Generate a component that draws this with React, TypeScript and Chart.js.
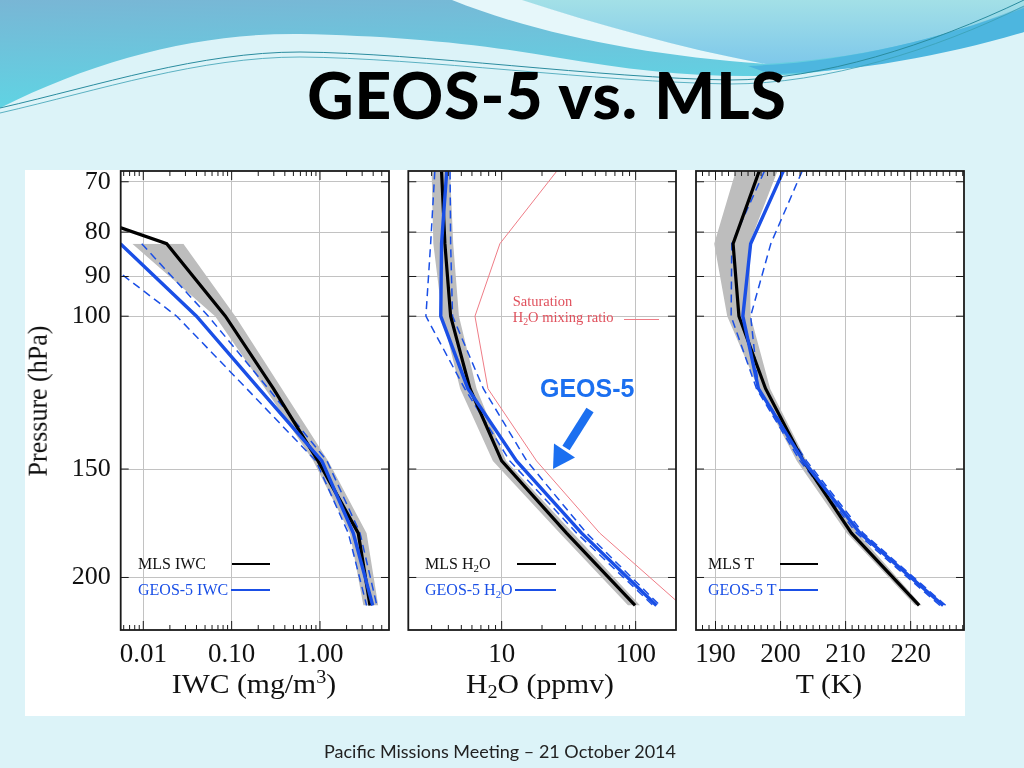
import React, { useEffect, useRef } from 'react';
import { Chart, registerables } from 'chart.js';

Chart.register(...registerables);

// ---------------- data ----------------
const pressureLevels = [68.1, 82.5, 100, 121.2, 146.8, 177.8, 215.4];
const pressureTicks = [70, 80, 90, 100, 150, 200];

const iwcTicks = [0.01, 0.1, 1];
const iwcMLS = [0.00008, 0.0184, 0.085, 0.297, 0.95, 2.71, 3.68];
const iwcMLSLow = [null, 0.0075, 0.065, 0.24, 0.84, 2.18, 3.1];
const iwcMLSHigh = [null, 0.0284, 0.11, 0.37, 1.24, 3.37, 4.56];
const iwcGEOS = [null, 0.0055, 0.04, 0.204, 1.05, 2.38, 3.95];
const iwcGEOSLow = [null, 0.002, 0.0239, 0.148, 0.9, 2.09, 3.37];
const iwcGEOSHigh = [null, 0.0096, 0.0545, 0.26, 1.2, 2.84, 4.4];

const h2oTicks = [10, 100];
const h2oMLS = [3.56, 3.77, 4.16, 5.8, 10.0, 30.5, 99];
const h2oMLSLow = [3.0, 3.09, 3.6, 4.9, 8.6, 27.2, 88];
const h2oMLSHigh = [4.12, 4.35, 4.8, 6.5, 10.8, 34.2, 108];
const h2oGEOS = [3.89, 3.56, 3.51, 5.6, 12.9, 39.5, 143];
const h2oGEOSLow = [3.17, 2.95, 2.72, 5.3, 11.5, 36.3, 135];
const h2oGEOSHigh = [4.12, 4.16, 4.3, 7.3, 15.4, 43.0, 152];
const h2oSaturation = [25.7, 9.7, 6.32, 7.9, 18.2, 54, 220];

const tTicks = [190, 200, 210, 220];
const tMLS = [196.7, 192.7, 193.6, 197.7, 203.5, 210.9, 221.3];
const tMLSLow = [193.1, 189.8, 191.8, 196.6, 202.5, 210.2, 220.7];
const tMLSHigh = [199.5, 195.2, 195.4, 198.4, 204, 211.9, 221.7];
const tGEOS = [200.4, 195.4, 194.2, 196.6, 203.5, 212.2, 225.0];
const tGEOSLow = [197.5, 192.5, 192.4, 196.3, 203, 211.7, 224.5];
const tGEOSHigh = [203.3, 198.5, 195.4, 196.6, 204, 212.7, 225.4];

// ---------------- style ----------------
const SERIF = '"Liberation Serif", "Times New Roman", serif';
const SANS = '"Liberation Sans", Arial, sans-serif';
const BLUE = '#1a4fe6';
const GREY = '#bdbdbd';
const RED = '#ef7c86';
const GRID = '#c2c2c2';

const CANVAS_TOP = 170;
const CANVAS_H = 546;
const AREA_TOP = 1;
const AREA_BOTTOM = 460;
const Y_MIN = 68.03;
const Y_MAX = 229.9;

type Spec = {
  id: string;
  left: number;
  width: number;
  areaLeft: number;
  areaRight: number;
  xType: 'logarithmic' | 'linear';
  xMin: number;
  xMax: number;
  xTicks: number[];
  xFormat: (v: number) => string;
  showY: boolean;
  mls: (number | null)[];
  mlsLow: (number | null)[];
  mlsHigh: (number | null)[];
  geos: (number | null)[];
  geosLow: (number | null)[];
  geosHigh: (number | null)[];
  sat?: (number | null)[];
};

const panels: Spec[] = [
  {
    id: 'iwc', left: 25, width: 370, areaLeft: 95.7, areaRight: 364,
    xType: 'logarithmic', xMin: 0.00555, xMax: 6.04, xTicks: iwcTicks,
    xFormat: (v) => v.toFixed(2), showY: true,
    mls: iwcMLS, mlsLow: iwcMLSLow, mlsHigh: iwcMLSHigh,
    geos: iwcGEOS, geosLow: iwcGEOSLow, geosHigh: iwcGEOSHigh,
  },
  {
    id: 'h2o', left: 395, width: 290, areaLeft: 13.3, areaRight: 281,
    xType: 'logarithmic', xMin: 2.01, xMax: 200, xTicks: h2oTicks,
    xFormat: (v) => String(Math.round(v)), showY: false,
    mls: h2oMLS, mlsLow: h2oMLSLow, mlsHigh: h2oMLSHigh,
    geos: h2oGEOS, geosLow: h2oGEOSLow, geosHigh: h2oGEOSHigh, sat: h2oSaturation,
  },
  {
    id: 't', left: 685, width: 280, areaLeft: 11, areaRight: 279,
    xType: 'linear', xMin: 187, xMax: 228.2, xTicks: tTicks,
    xFormat: (v) => String(Math.round(v)), showY: false,
    mls: tMLS, mlsLow: tMLSLow, mlsHigh: tMLSHigh,
    geos: tGEOS, geosLow: tGEOSLow, geosHigh: tGEOSHigh,
  },
];

function minorMarks(type: string, min: number, max: number) {
  const out: { v: number; len: number }[] = [];
  if (type === 'logarithmic') {
    for (let e = Math.floor(Math.log10(min)); e <= Math.ceil(Math.log10(max)); e++) {
      for (let k = 1; k <= 9; k++) out.push({ v: k * Math.pow(10, e), len: k === 1 ? 9 : 5 });
    }
  } else {
    for (let v = Math.ceil(min); v <= Math.floor(max); v++) {
      out.push({ v, len: v % 10 === 0 ? 9 : 5 });
    }
  }
  return out;
}

const framePlugin = {
  id: 'frameTicks',
  afterDraw(chart: any) {
    const { ctx, chartArea: a, scales } = chart;
    const xs = scales.x;
    const ys = scales.y;
    ctx.save();
    ctx.strokeStyle = '#1a1a1a';
    ctx.lineWidth = 1;
    ctx.beginPath();
    for (const m of minorMarks(xs.type, xs.min, xs.max)) {
      const px = xs.getPixelForValue(m.v);
      if (px < a.left + 1 || px > a.right - 1) continue;
      ctx.moveTo(px, a.bottom);
      ctx.lineTo(px, a.bottom - m.len);
      ctx.moveTo(px, a.top);
      ctx.lineTo(px, a.top + m.len);
    }
    for (const v of pressureTicks) {
      const py = ys.getPixelForValue(v);
      ctx.moveTo(a.left, py);
      ctx.lineTo(a.left + 8, py);
      ctx.moveTo(a.right, py);
      ctx.lineTo(a.right - 8, py);
    }
    ctx.stroke();
    ctx.lineWidth = 1.8;
    ctx.strokeRect(a.left, a.top, a.right - a.left, a.bottom - a.top);
    ctx.restore();
  },
};

function toPoints(values: (number | null)[]) {
  return pressureLevels.map((p, i) => ({ x: values[i], y: p }));
}

function buildConfig(s: Spec): any {
  const datasets: any[] = [
    {
      label: 'MLS range low', data: toPoints(s.mlsLow), borderColor: 'transparent',
      borderWidth: 1, fill: false, order: 6,
    },
    {
      label: 'MLS range high', data: toPoints(s.mlsHigh), borderColor: 'transparent',
      borderWidth: 1, fill: '-1', backgroundColor: GREY, order: 5,
    },
  ];
  if (s.sat) {
    datasets.push({
      label: 'Saturation H2O mixing ratio', data: toPoints(s.sat), borderColor: RED,
      borderWidth: 1, fill: false, order: 4,
    });
  }
  datasets.push(
    {
      label: 'GEOS-5 low', data: toPoints(s.geosLow), borderColor: BLUE, borderWidth: 1.5,
      borderDash: [8, 5], fill: false, order: 3,
    },
    {
      label: 'GEOS-5 high', data: toPoints(s.geosHigh), borderColor: BLUE, borderWidth: 1.5,
      borderDash: [8, 5], fill: false, order: 2,
    },
    {
      label: 'MLS', data: toPoints(s.mls), borderColor: '#000000', borderWidth: 3.2,
      fill: false, order: 1,
    },
    {
      label: 'GEOS-5', data: toPoints(s.geos), borderColor: BLUE, borderWidth: 3.4,
      fill: false, order: 0,
    },
  );

  return {
    type: 'line',
    data: { datasets },
    plugins: [framePlugin],
    options: {
      responsive: false,
      animation: false,
      indexAxis: 'y',
      layout: { padding: { left: 0, top: AREA_TOP, right: s.width - s.areaRight, bottom: 0 } },
      plugins: { legend: { display: false }, tooltip: { enabled: false } },
      elements: { point: { radius: 0, hoverRadius: 0 }, line: { tension: 0 } },
      scales: {
        x: {
          type: s.xType,
          min: s.xMin,
          max: s.xMax,
          afterBuildTicks: (sc: any) => {
            sc.ticks = s.xTicks.map((v) => ({ value: v }));
          },
          afterFit: (sc: any) => {
            sc.height = CANVAS_H - AREA_BOTTOM;
            sc.paddingLeft = 0;
            sc.paddingRight = 0;
          },
          grid: { color: GRID, lineWidth: 1, drawTicks: false },
          border: { display: false },
          ticks: {
            autoSkip: false,
            maxRotation: 0,
            padding: 9,
            color: '#111',
            font: { family: SERIF, size: 27 },
            callback: (v: any) => s.xFormat(Number(v)),
          },
        },
        y: {
          type: 'logarithmic',
          reverse: true,
          min: Y_MIN,
          max: Y_MAX,
          afterBuildTicks: (sc: any) => {
            sc.ticks = pressureTicks.map((v) => ({ value: v }));
          },
          afterFit: (sc: any) => {
            sc.width = s.areaLeft;
            sc.paddingTop = 0;
            sc.paddingBottom = 0;
          },
          grid: { color: GRID, lineWidth: 1, drawTicks: false },
          border: { display: false },
          ticks: {
            display: s.showY,
            autoSkip: false,
            padding: 10,
            color: '#111',
            font: { family: SERIF, size: 26 },
            callback: (v: any) => String(v),
          },
        },
      },
    },
  };
}

function Panel({ spec }: { spec: Spec }) {
  const ref = useRef<HTMLCanvasElement>(null);
  useEffect(() => {
    const chart = new Chart(ref.current as HTMLCanvasElement, buildConfig(spec));
    return () => chart.destroy();
  }, [spec]);
  return (
    <canvas
      ref={ref}
      width={spec.width}
      height={CANVAS_H}
      style={{ position: 'absolute', left: spec.left, top: CANVAS_TOP, width: spec.width, height: CANVAS_H }}
    />
  );
}

const sub = { fontSize: '0.68em', verticalAlign: '-0.28em', lineHeight: 0 } as React.CSSProperties;
const sup = { fontSize: '0.68em', verticalAlign: '0.55em', lineHeight: 0 } as React.CSSProperties;

function Txt(props: {
  x: number; cy: number; size: number; color?: string; font?: string; weight?: number | string;
  align?: 'left' | 'center'; w?: number; children: React.ReactNode; sx?: number;
}) {
  const { x, cy, size, color = '#111', font = SERIF, weight = 'normal', align = 'left', w = 300, sx = 1 } = props;
  const h = size * 1.4;
  return (
    <div
      style={{
        position: 'absolute',
        left: align === 'center' ? x - w / 2 : x,
        top: cy - h / 2,
        width: w,
        height: h,
        lineHeight: `${h}px`,
        fontFamily: font,
        fontSize: size,
        fontWeight: weight as any,
        color,
        textAlign: align,
        whiteSpace: 'nowrap',
        transform: sx !== 1 ? `scaleX(${sx})` : undefined,
        transformOrigin: align === 'center' ? '50% 50%' : '0 50%',
      }}
    >
      {props.children}
    </div>
  );
}

function LegendLine({ x1, x2, y, color }: { x1: number; x2: number; y: number; color: string }) {
  return (
    <div style={{ position: 'absolute', left: x1, top: y - 0.75, width: x2 - x1, height: 1.5, background: color }} />
  );
}

function Header() {
  return (
    <svg width={1024} height={170} style={{ position: 'absolute', left: 0, top: 0 }}>
      <defs>
        <linearGradient id="gBlue" x1="0" y1="0" x2="0.25" y2="1">
          <stop offset="0" stopColor="#79b6d5" />
          <stop offset="1" stopColor="#5ed5e4" />
        </linearGradient>
        <linearGradient id="gTeal" x1="0" y1="0" x2="0" y2="1">
          <stop offset="0" stopColor="#a3e0e7" />
          <stop offset="1" stopColor="#7ec8ea" />
        </linearGradient>
      </defs>
      <path
        d="M0,0 H1024 V32 C960,46 880,66 800,74 C720,80 640,72 560,58 C480,44 400,36 300,34 C200,33 100,58 0,108 Z"
        fill="url(#gBlue)"
      />
      <path d="M520,0 H1024 V6 C940,40 860,58 765,64 C680,48 600,25 520,0 Z" fill="url(#gTeal)" />
      <path d="M452,0 L522,0 C600,25 680,48 766,64 C650,56 540,35 452,0 Z" fill="#e6f7fa" />
      <path d="M748,66 C850,62 940,38 1024,8 V32 C950,54 860,72 770,74 Z" fill="#4db6df" />
      <path d="M0,108 C100,85 200,52 300,52 C420,53 600,78 730,80 C820,80 930,45 1024,0" stroke="#2a8c9f" strokeWidth={1} fill="none" />
      <path d="M0,113 C100,90 200,57 300,57 C420,58 600,82 730,84 C825,84 935,50 1024,6" stroke="#3aa0b4" strokeWidth={0.8} fill="none" />
    </svg>
  );
}

export default function App() {
  return (
    <div
      style={{
        position: 'absolute', left: 0, top: 0, width: 1024, height: 768, overflow: 'hidden',
        background: '#dcf3f8',
      }}
    >
      <Header />
      <div
        style={{
          position: 'absolute', left: 0, top: 63, width: 1094, textAlign: 'center',
          fontFamily: 'Lato, "DejaVu Sans", sans-serif', fontWeight: 900, fontSize: 64, lineHeight: '64px',
          color: '#000', letterSpacing: 1,
        }}
      >
        GEOS-5 vs. MLS
      </div>

      <div style={{ position: 'absolute', left: 25, top: 170, width: 940, height: 546, background: '#ffffff' }} />

      {panels.map((p) => (
        <Panel key={p.id} spec={p} />
      ))}

      {/* axis titles */}
      <div
        style={{
          position: 'absolute', left: 38 - 110, top: 401 - 16, width: 220, height: 32, lineHeight: '32px',
          textAlign: 'center', fontFamily: SERIF, fontSize: 26, color: '#111',
          transform: 'rotate(-90deg) scaleY(1.08)', whiteSpace: 'nowrap',
        }}
      >
        Pressure (hPa)
      </div>
      <Txt x={254} cy={685} size={27} align="center" sx={1.1}>
        IWC (mg/m<span style={sup}>3</span>)
      </Txt>
      <Txt x={540} cy={685} size={27} align="center" sx={1.1}>
        H<span style={sub}>2</span>O (ppmv)
      </Txt>
      <Txt x={829} cy={685} size={27} align="center" sx={1.1}>
        T (K)
      </Txt>

      {/* legends */}
      <Txt x={138} cy={564} size={16}>MLS IWC</Txt>
      <LegendLine x1={232} x2={270} y={564} color="#000" />
      <Txt x={138} cy={590} size={16} color={BLUE}>GEOS-5 IWC</Txt>
      <LegendLine x1={231} x2={270} y={590} color={BLUE} />

      <Txt x={425} cy={564} size={16}>
        MLS H<span style={sub}>2</span>O
      </Txt>
      <LegendLine x1={517} x2={556} y={564} color="#000" />
      <Txt x={425} cy={590} size={16} color={BLUE}>
        GEOS-5 H<span style={sub}>2</span>O
      </Txt>
      <LegendLine x1={515} x2={556} y={590} color={BLUE} />

      <Txt x={708} cy={564} size={16}>MLS T</Txt>
      <LegendLine x1={780} x2={818} y={564} color="#000" />
      <Txt x={708} cy={590} size={16} color={BLUE}>GEOS-5 T</Txt>
      <LegendLine x1={779} x2={818} y={590} color={BLUE} />

      {/* saturation annotation */}
      <Txt x={512.7} cy={301} size={14.5} color="#e0505c">Saturation</Txt>
      <Txt x={512.7} cy={317} size={14.5} color="#e0505c">
        H<span style={sub}>2</span>O mixing ratio
      </Txt>
      <div style={{ position: 'absolute', left: 624, top: 319, width: 35, height: 1, background: RED }} />

      {/* GEOS-5 callout */}
      <Txt x={540} cy={388} size={25} color="#1b6ff0" font={SANS} weight={700}>GEOS-5</Txt>
      <svg width={1024} height={768} style={{ position: 'absolute', left: 0, top: 0, pointerEvents: 'none' }}>
        <line x1={590} y1={410} x2={566} y2={448} stroke="#1b6ff0" strokeWidth={8.5} />
        <polygon points="553,469 575,457.5 554,443.5" fill="#1b6ff0" />
      </svg>

      {/* footer */}
      <div
        style={{
          position: 'absolute', left: 250, top: 742, width: 500, textAlign: 'center',
          fontFamily: 'Lato, "Open Sans", sans-serif', fontSize: 18, lineHeight: '18px', color: '#222',
        }}
      >
        Pacific Missions Meeting – 21 October 2014
      </div>
    </div>
  );
}
